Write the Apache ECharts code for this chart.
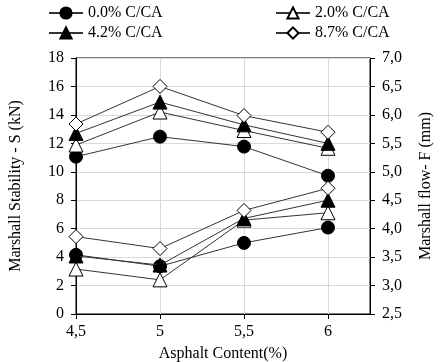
<!DOCTYPE html>
<html><head><meta charset="utf-8">
<script src="https://cdn.jsdelivr.net/npm/echarts@6/dist/echarts.min.js"></script>
<style>html,body{margin:0;padding:0;background:#fff}#c{width:444px;height:362px}</style>
</head><body><div id="c"></div>
<script>
var asphalt = [4.5, 5, 5.5, 6];
var seriesNames = ['0.0% C/CA', '2.0% C/CA', '4.2% C/CA', '8.7% C/CA'];
// Marshall Stability S (kN) - left axis
var stab00 = [11.06, 12.47, 11.77, 9.72];
var stab20 = [11.88, 14.2, 12.9, 11.65];
var stab42 = [12.7, 14.9, 13.3, 12.0];
var stab87 = [13.36, 16.0, 13.95, 12.78];
// Marshall flow F (mm) - right axis
var flow00 = [3.54, 3.34, 3.75, 4.02];
var flow20 = [3.29, 3.10, 4.15, 4.28];
var flow42 = [3.52, 3.36, 4.18, 4.50];
var flow87 = [3.86, 3.65, 4.32, 4.71];
var leftTicks = {min: 0, max: 18, interval: 2};
var rightTicks = {min: 2.5, max: 7.0, interval: 0.5};
var xTicks = {min: 4.5, max: 6.25, interval: 0.5};

var font = 'Liberation Serif';
function pairs(v){ return asphalt.map(function(x,i){ return [x, v[i]]; }); }
var styles = [
  {symbol: 'circle', fill: '#000'},
  {symbol: 'triangle', fill: '#fff'},
  {symbol: 'triangle', fill: '#000'},
  {symbol: 'diamond', fill: '#fff'}
];
function mk(name, idx, data, yIdx){
  var s = styles[idx];
  return {
    name: name, type: 'line', yAxisIndex: yIdx, data: pairs(data),
    symbol: s.symbol, symbolSize: s.symbol === 'circle' ? 13 : 14,
    lineStyle: {color: '#333', width: 1},
    itemStyle: {color: s.fill, borderColor: '#000', borderWidth: 1},
    emphasis: {disabled: true}, animation: false, z: 3 + idx
  };
}
var chart = echarts.init(document.getElementById('c'));
chart.setOption({
  animation: false,
  textStyle: {fontFamily: font},
  legend: [
    {data: [seriesNames[0], seriesNames[2]], orient: 'vertical', left: 43, top: 0, itemGap: 4,
     itemWidth: 34, itemHeight: 14, textStyle: {fontFamily: font, fontSize: 16, color: '#000'}},
    {data: [seriesNames[1], seriesNames[3]], orient: 'vertical', left: 270, top: 0, itemGap: 4,
     itemWidth: 34, itemHeight: 14, textStyle: {fontFamily: font, fontSize: 16, color: '#000'}}
  ],
  grid: {left: 76, right: 74, top: 58, bottom: 48, containLabel: false, outerBoundsMode: 'none',
         show: true, borderColor: '#000', borderWidth: 1},
  xAxis: {
    type: 'value', min: xTicks.min, max: xTicks.max, interval: xTicks.interval,
    name: 'Asphalt Content(%)', nameLocation: 'middle', nameGap: 32,
    nameTextStyle: {fontFamily: font, fontSize: 16, color: '#000'},
    axisLine: {lineStyle: {color: '#000'}},
    axisTick: {show: true, length: 5, lineStyle: {color: '#000'}},
    axisLabel: {fontFamily: font, fontSize: 16, color: '#000', showMaxLabel: false, margin: 10,
      formatter: function(v){ return String(v).replace('.', ','); }},
    splitLine: {show: true, lineStyle: {color: '#d9d9d9'}}
  },
  yAxis: [
    {type: 'value', min: leftTicks.min, max: leftTicks.max, interval: leftTicks.interval,
     name: 'Marshall Stability - S (kN)', nameLocation: 'middle', nameGap: 52, nameRotate: 90,
     nameTextStyle: {fontFamily: font, fontSize: 16, color: '#000'},
     axisLine: {show: true, lineStyle: {color: '#000'}},
     axisTick: {show: true, length: 5, lineStyle: {color: '#000'}},
     axisLabel: {fontFamily: font, fontSize: 16, color: '#000', margin: 12},
     splitLine: {show: true, lineStyle: {color: '#d9d9d9'}}},
    {type: 'value', min: rightTicks.min, max: rightTicks.max, interval: rightTicks.interval, position: 'right',
     name: 'Marshall flow- F (mm)', nameLocation: 'middle', nameGap: 48, nameRotate: 90,
     nameTextStyle: {fontFamily: font, fontSize: 16, color: '#000'},
     axisLine: {show: true, lineStyle: {color: '#000'}},
     axisTick: {show: true, length: 5, lineStyle: {color: '#000'}},
     axisLabel: {fontFamily: font, fontSize: 16, color: '#000', margin: 12,
       formatter: function(v){ return v.toFixed(1).replace('.', ','); }},
     splitLine: {show: false}}
  ],
  series: [
    mk(seriesNames[0], 0, stab00, 0),
    mk(seriesNames[1], 1, stab20, 0),
    mk(seriesNames[2], 2, stab42, 0),
    mk(seriesNames[3], 3, stab87, 0),
    mk(seriesNames[0], 0, flow00, 1),
    mk(seriesNames[1], 1, flow20, 1),
    mk(seriesNames[2], 2, flow42, 1),
    mk(seriesNames[3], 3, flow87, 1)
  ]
});
</script></body></html>
